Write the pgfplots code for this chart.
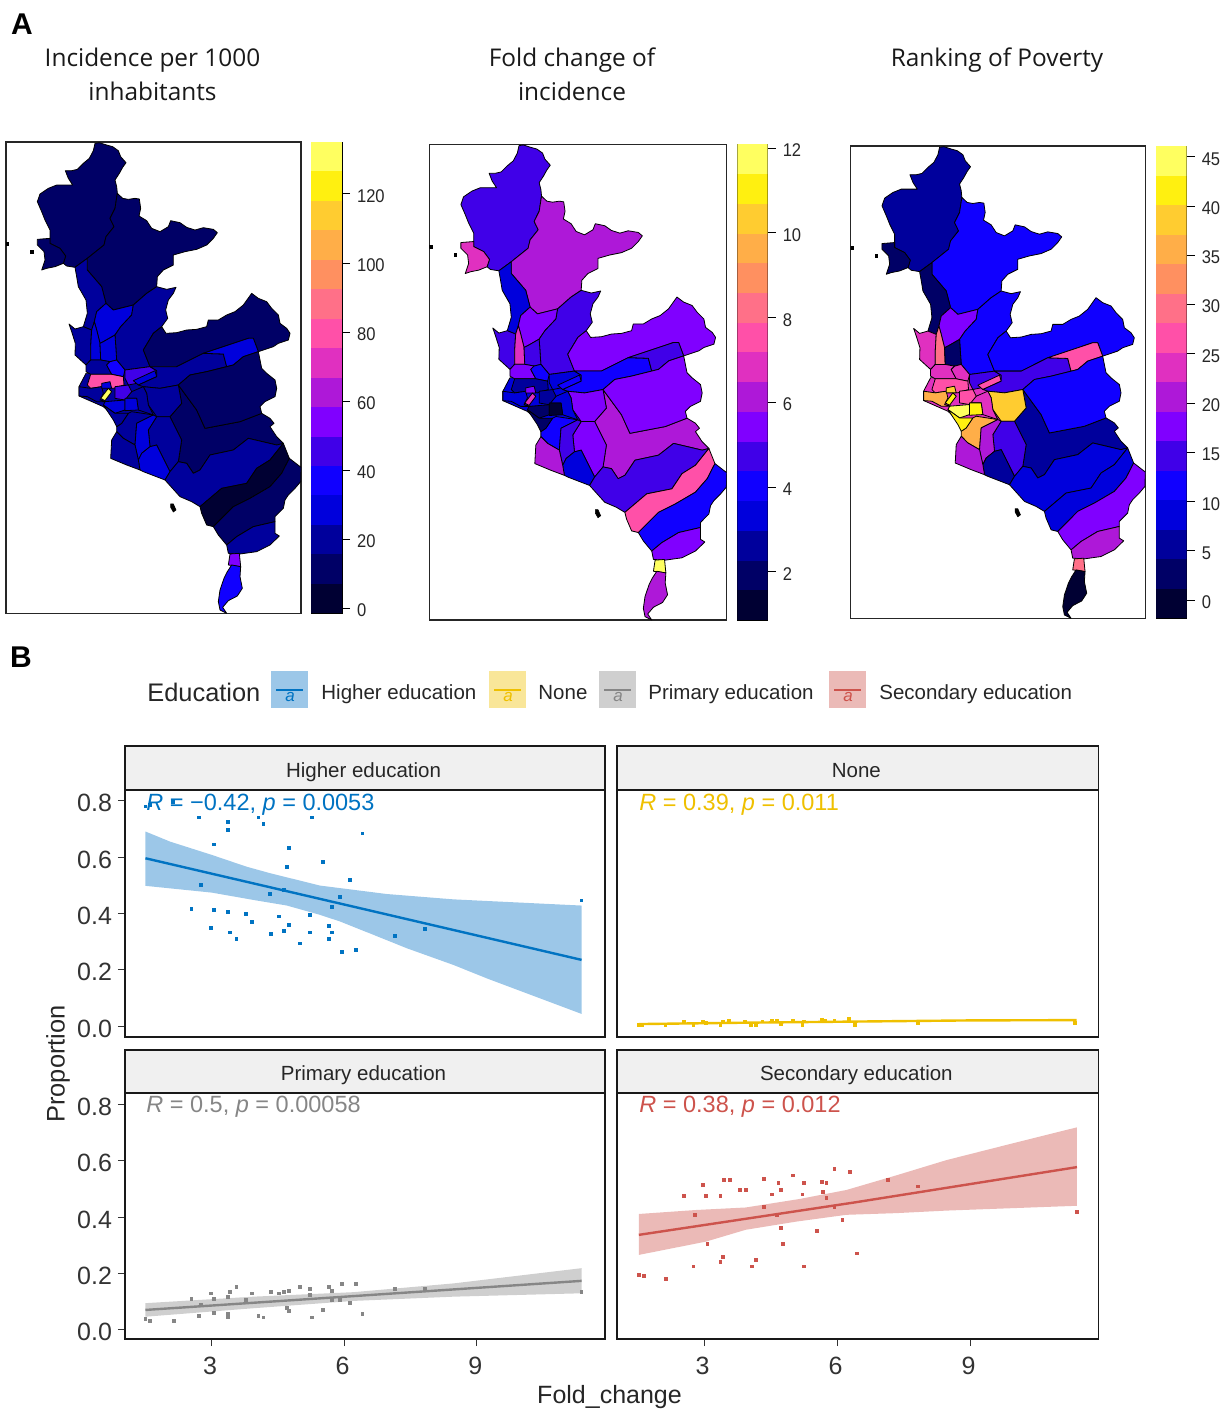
\documentclass[border=0pt]{standalone}
\usepackage{pgfplots}
\pgfplotsset{compat=1.18}
\usepackage{fontspec}
\setmainfont{Liberation Sans}
\newfontfamily\ttl{Open Sans}
\definecolor{L1}{HTML}{000033}\definecolor{L2}{HTML}{000066}\definecolor{L3}{HTML}{00009C}\definecolor{L4}{HTML}{0000DC}
\definecolor{L5}{HTML}{1000FF}\definecolor{L6}{HTML}{4000E8}\definecolor{L7}{HTML}{8000FF}\definecolor{L8}{HTML}{AE18D8}
\definecolor{L9}{HTML}{E030C0}\definecolor{L10}{HTML}{FF50A8}\definecolor{L11}{HTML}{FF7088}\definecolor{L12}{HTML}{FF9060}
\definecolor{L13}{HTML}{FFAE48}\definecolor{L14}{HTML}{FFCC30}\definecolor{L15}{HTML}{FFF010}\definecolor{L16}{HTML}{FFFF60}
\definecolor{jb}{HTML}{0073C2}\definecolor{jy}{HTML}{EFC000}\definecolor{jg}{HTML}{868686}\definecolor{jr}{HTML}{CD534C}
\definecolor{bb}{HTML}{9CC7E8}\definecolor{by}{HTML}{F9E699}\definecolor{bg}{HTML}{CFCFCF}\definecolor{br}{HTML}{EBBAB7}
\newcommand\C[2]{\colorlet{r#1}{L#2}}
\newcommand\Rg[2]{\addplot[draw=black,fill=r#1,line width=.4pt,line join=round] coordinates {#2} --cycle;}
\newcommand\Isl[1]{\addplot[draw=black,fill=black,line width=.3pt] coordinates {#1} --cycle;}
\newcommand\MapBody{%
\Rg{0}{(258,730)(470,722)(540,770)(510,860)(405,945)(365,880)(310,830)(237,798)(237,770)}
\Rg{1}{(285,40)(298,38)(320,45)(338,50)(355,62)(362,80)(378,98)(368,112)(358,130)(345,150)(350,170)(352,190)(345,235)(330,265)(342,290)(318,320)(312,345)(262,385)(225,412)(200,408)(190,400)(197,378)(180,355)(160,345)(150,340)(150,325)(150,300)(135,270)(125,245)(112,215)(120,192)(145,175)(170,165)(218,165)(205,145)(196,122)(215,122)(232,118)(250,100)(268,85)(280,62)}
\Rg{2}{(112,328)(150,325)(150,340)(160,345)(180,355)(197,378)(190,400)(165,410)(140,415)(125,420)(135,390)(132,365)(112,345)}
\Rg{3}{(352,190)(368,205)(385,208)(405,205)(418,207)(422,235)(417,258)(440,272)(455,295)(480,305)(505,290)(512,272)(540,278)(560,292)(585,300)(610,293)(640,298)(652,308)(640,325)(620,345)(590,358)(555,365)(520,375)(520,405)(490,420)(472,440)(470,470)(440,490)(400,525)(340,540)(318,520)(305,470)(262,420)(262,385)(312,345)(318,320)(342,290)(330,265)(345,235)}
\Rg{4}{(225,412)(262,385)(262,420)(305,470)(318,520)(290,545)(283,575)(275,600)(250,590)(262,550)(258,510)(235,470)(230,440)}
\Rg{5}{(318,520)(340,540)(400,525)(395,555)(362,590)(345,615)(310,635)(300,640)(290,600)(283,575)(290,545)}
\Rg{6}{(470,470)(500,478)(528,472)(520,490)(505,510)(497,540)(503,565)(485,590)(460,610)(430,660)(450,710)(375,720)(350,690)(345,615)(362,590)(395,555)(400,525)(440,490)}
\Rg{7}{(207,582)(225,597)(250,590)(275,600)(272,650)(272,690)(258,705)(225,675)(226,640)(215,605)}
\Rg{8}{(275,600)(283,575)(290,600)(300,640)(302,690)(272,690)(272,650)}
\Rg{9}{(300,640)(310,635)(345,615)(350,690)(330,695)(302,690)}
\Rg{10}{(272,690)(302,690)(330,695)(320,705)(335,733)(272,733)(258,725)(258,705)}
\Rg{11}{(330,695)(350,690)(375,720)(370,740)(335,733)(320,705)}
\Rg{13}{(375,720)(450,710)(470,722)(470,740)(410,760)(385,765)(375,745)}
\Rg{14}{(400,752)(465,722)(470,740)(415,765)}
\Rg{12}{(272,733)(335,733)(370,740)(372,765)(340,775)(305,770)(272,775)(262,765)}
\Rg{17}{(485,590)(498,610)(530,608)(560,600)(590,598)(620,590)(625,570)(655,570)(680,555)(705,545)(730,525)(755,490)(775,505)(800,515)(815,535)(835,555)(840,580)(860,595)(870,610)(865,630)(835,640)(820,650)(775,665)(760,625)(745,625)(670,650)(610,670)(530,710)(450,710)(430,660)(460,610)}
\Rg{15}{(450,710)(530,710)(610,670)(670,672)(680,710)(620,725)(570,735)(535,765)(480,775)(430,770)(415,765)(470,740)(470,722)}
\Rg{16}{(610,670)(670,650)(745,625)(760,625)(775,665)(730,680)(700,705)(680,710)(670,672)}
\Rg{19}{(535,765)(590,840)(615,895)(720,875)(785,850)(810,865)(822,880)(810,890)(830,920)(850,940)(830,945)(745,925)(700,960)(630,975)(600,1020)(580,1030)(560,1000)(535,995)(545,930)(510,860)(545,820)}
\Rg{18}{(535,765)(570,735)(620,725)(680,710)(700,705)(730,680)(775,665)(785,715)(800,730)(825,750)(830,775)(825,800)(795,815)(780,830)(785,850)(720,875)(615,895)(590,840)}
\Rg{20}{(430,770)(480,775)(535,765)(545,820)(510,860)(470,860)(445,825)(440,790)}
\Rg{21}{(470,860)(510,860)(545,930)(535,995)(510,1025)(470,945)(450,950)(445,900)}
\Rg{25}{(350,890)(365,880)(385,850)(395,845)(460,855)(410,880)(405,945)(370,925)(350,905)}
\Rg{22}{(460,855)(470,860)(445,900)(450,950)(425,970)(415,990)(405,945)(410,880)}
\Rg{23}{(450,950)(470,945)(510,1025)(495,1050)(430,1025)(420,1020)(415,990)(425,970)}
\Rg{24}{(350,905)(370,925)(405,945)(415,990)(420,1020)(380,1005)(332,985)(335,930)}
\Rg{26}{(510,1025)(535,995)(560,1000)(580,1030)(600,1020)(630,975)(700,960)(745,925)(830,945)(850,940)(810,990)(770,1015)(740,1060)(665,1075)(600,1130)(575,1115)(540,1100)(495,1050)}
\Rg{27}{(600,1130)(665,1075)(740,1060)(770,1015)(810,990)(850,940)(868,985)(845,1030)(810,1070)(750,1105)(700,1130)(640,1190)(620,1185)(605,1150)}
\Rg{28}{(868,985)(903,1012)(902,1055)(885,1075)(865,1095)(855,1110)(850,1135)(825,1160)(825,1175)(760,1190)(710,1220)(680,1245)(655,1215)(640,1190)(700,1130)(750,1105)(810,1070)(845,1030)}
\Rg{29}{(760,1190)(825,1175)(825,1210)(838,1218)(810,1245)(770,1265)(720,1272)(685,1270)(680,1245)(710,1220)}
\Rg{30}{(690,1272)(718,1270)(722,1310)(685,1305)}
\Rg{31}{(695,1305)(722,1310)(720,1340)(727,1375)(712,1398)(685,1412)(668,1432)(680,1450)(660,1440)(655,1415)(660,1380)(672,1345)(682,1325)}
\Rg{32}{(237,770)(272,775)(305,770)(310,790)(300,810)(320,815)(290,815)(262,800)(237,798)}
\Rg{34}{(305,760)(330,755)(335,775)(305,775)}
\Rg{39}{(395,785)(430,770)(440,790)(445,825)(460,855)(415,840)(410,805)(375,805)}
\Rg{35}{(345,770)(385,765)(395,785)(375,810)(345,805)}
\Rg{36}{(315,815)(375,810)(375,840)(345,850)(310,825)}
\Rg{37}{(375,805)(410,805)(415,840)(375,842)}
\Rg{38}{(310,825)(345,850)(385,850)(365,880)(350,890)(340,870)}
\Rg{33}{(302,805)(325,775)(335,785)(315,812)}
\Isl{(18,336)(26,336)(26,345)(18,345)}
\Isl{(92,361)(99,361)(99,369)(92,369)}
\Isl{(512,1122)(520,1122)(528,1140)(520,1146)(512,1132)}
}
\newcommand\Lev[3]{\addplot[fill=L#1,draw=none] coordinates {(0,#2)(1,#2)(1,#3)(0,#3)} --cycle;}
\pgfplotsset{
 mapax/.style={anchor=south west,scale only axis,xmin=18,xmax=903,ymin=36,ymax=1450,y dir=reverse,ticks=none,axis line style={line width=.6pt,draw=black!85}},
 cbax/.style={anchor=south west,scale only axis,xmin=0,xmax=1,xtick=\empty,ytick pos=right,yticklabel pos=right,tick align=outside,
   major tick length=4pt,tick style={black,line width=.4pt},axis line style={line width=.4pt},
   yticklabel={\scalebox{.9}[1]{\pgfmathprintnumber{\tick}}},
   /pgf/number format/assume math mode=true,yticklabel style={font=\fontsize{9.2}{10}\selectfont,text=black!85,yshift=-1.1pt}},
 panel/.style={anchor=south west,scale only axis,xmin=1.037,xmax=11.9,xtick={3,6,9},ytick={0,0.2,0.4,0.6,0.8},
   major tick length=3.5pt,tick align=outside,tick style={black!80,line width=.5pt},axis line style={line width=.7pt,draw=black!90},
   ytick pos=left,xtick pos=bottom,
   /pgf/number format/assume math mode=true,/pgf/number format/fixed,/pgf/number format/fixed zerofill,/pgf/number format/precision=1,
   xticklabel style={font=\fontsize{12.5}{15}\selectfont,text=black!80,yshift=-2pt,xshift=-.8pt,/pgf/number format/precision=0,/pgf/number format/fixed zerofill=false},
   yticklabel style={font=\fontsize{12.5}{15}\selectfont,text=black!80,yshift=-1.2pt,xshift=.5pt}},
 up/.style={panel,ymin=-0.039,ymax=0.8385,width=240pt,height=123.5pt,xtick=\empty},
 lo/.style={panel,ymin=-0.032,ymax=0.8395,width=240pt,height=123pt},
 pts/.style={only marks,color=#1,mark=square*,mark size=.7pt,mark options={solid,draw=#1,fill=#1,line width=0pt}},
}
\begin{document}
\begin{tikzpicture}
\useasboundingbox (0,0) rectangle (610.5pt,-705pt);
% ---- maps
\C{0}{3}\C{1}{2}\C{2}{2}\C{3}{2}\C{4}{3}\C{5}{4}\C{6}{3}\C{7}{3}\C{8}{4}\C{9}{4}\C{10}{3}\C{11}{5}\C{12}{10}\C{13}{6}\C{14}{4}\C{15}{3}\C{16}{4}\C{17}{2}\C{18}{2}\C{19}{2}\C{20}{3}\C{21}{3}\C{22}{4}\C{23}{4}\C{24}{3}\C{25}{3}\C{26}{3}\C{27}{1}\C{28}{2}\C{29}{3}\C{30}{7}\C{31}{5}\C{32}{3}\C{33}{16}\C{34}{4}\C{35}{6}\C{36}{4}\C{37}{4}\C{38}{3}\C{39}{3}
\begin{axis}[mapax,at={(3pt,-306.65pt)},width=147.5pt,height=235.65pt]
\MapBody
\end{axis}
\begin{axis}[cbax,at={(155.5pt,-306.65pt)},width=15.5pt,height=235.65pt,ymin=-1.45,ymax=135,ytick={0,20,40,60,80,100,120}]
\Lev{1}{-1.45}{7.08}\Lev{2}{7.08}{15.6}\Lev{3}{15.6}{24.1}\Lev{4}{24.1}{32.7}\Lev{5}{32.7}{41.2}\Lev{6}{41.2}{49.7}\Lev{7}{49.7}{58.3}\Lev{8}{58.3}{66.8}\Lev{9}{66.8}{75.3}\Lev{10}{75.3}{83.8}\Lev{11}{83.8}{92.4}\Lev{12}{92.4}{100.9}\Lev{13}{100.9}{109.4}\Lev{14}{109.4}{118}\Lev{15}{118}{126.5}\Lev{16}{126.5}{135}
\end{axis}
\C{0}{4}\C{1}{6}\C{2}{9}\C{3}{8}\C{4}{4}\C{5}{7}\C{6}{6}\C{7}{6}\C{8}{9}\C{9}{6}\C{10}{7}\C{11}{5}\C{12}{3}\C{13}{4}\C{14}{5}\C{15}{5}\C{16}{6}\C{17}{7}\C{18}{7}\C{19}{8}\C{20}{7}\C{21}{7}\C{22}{6}\C{23}{4}\C{24}{8}\C{25}{5}\C{26}{6}\C{27}{10}\C{28}{5}\C{29}{7}\C{30}{16}\C{31}{8}\C{32}{4}\C{33}{9}\C{34}{7}\C{35}{3}\C{36}{2}\C{37}{1}\C{38}{2}\C{39}{4}
\begin{axis}[mapax,at={(214.65pt,-310pt)},width=148.7pt,height=237.85pt]
\MapBody
\end{axis}
\begin{axis}[cbax,at={(368.65pt,-310pt)},width=15.2pt,height=237.85pt,ymin=0.858,ymax=12.09,ytick={2,4,6,8,10,12}]
\Lev{1}{.858}{1.56}\Lev{2}{1.56}{2.262}\Lev{3}{2.262}{2.964}\Lev{4}{2.964}{3.666}\Lev{5}{3.666}{4.368}\Lev{6}{4.368}{5.07}\Lev{7}{5.07}{5.772}\Lev{8}{5.772}{6.474}\Lev{9}{6.474}{7.176}\Lev{10}{7.176}{7.878}\Lev{11}{7.878}{8.58}\Lev{12}{8.58}{9.282}\Lev{13}{9.282}{9.984}\Lev{14}{9.984}{10.686}\Lev{15}{10.686}{11.388}\Lev{16}{11.388}{12.09}
\end{axis}
\C{0}{9}\C{1}{3}\C{2}{2}\C{3}{5}\C{4}{2}\C{5}{7}\C{6}{5}\C{7}{9}\C{8}{11}\C{9}{2}\C{10}{9}\C{11}{9}\C{12}{10}\C{13}{6}\C{14}{10}\C{15}{6}\C{16}{10}\C{17}{5}\C{18}{5}\C{19}{3}\C{20}{14}\C{21}{6}\C{22}{8}\C{23}{3}\C{24}{8}\C{25}{13}\C{26}{4}\C{27}{4}\C{28}{7}\C{29}{8}\C{30}{11}\C{31}{1}\C{32}{13}\C{33}{15}\C{34}{14}\C{35}{10}\C{36}{16}\C{37}{15}\C{38}{15}\C{39}{9}
\begin{axis}[mapax,at={(425.35pt,-309.15pt)},width=147.3pt,height=236.15pt]
\MapBody
\end{axis}
\begin{axis}[cbax,at={(578pt,-309.15pt)},width=15.35pt,height=236.15pt,ymin=-1.86,ymax=46.08,ytick={0,5,10,15,20,25,30,35,40,45}]
\Lev{1}{-1.86}{1.14}\Lev{2}{1.14}{4.13}\Lev{3}{4.13}{7.13}\Lev{4}{7.13}{10.12}\Lev{5}{10.12}{13.12}\Lev{6}{13.12}{16.12}\Lev{7}{16.12}{19.11}\Lev{8}{19.11}{22.11}\Lev{9}{22.11}{25.1}\Lev{10}{25.1}{28.1}\Lev{11}{28.1}{31.1}\Lev{12}{31.1}{34.09}\Lev{13}{34.09}{37.09}\Lev{14}{37.09}{40.08}\Lev{15}{40.08}{43.08}\Lev{16}{43.08}{46.08}
\end{axis}
% ---- panels
\begin{axis}[up,at={(62.5pt,-518.5pt)}]
\addplot[fill=bb,draw=none] coordinates {(1.50,.691)(2.06,.655)(3,.608)(3.79,.566)(4.32,.543)(5.45,.499)(6.96,.469)(8.47,.450)(11.37,.428)(11.37,.043)(9.23,.169)(8.47,.217)(7.42,.276)(6.66,.324)(5.91,.371)(5.45,.395)(4.70,.428)(3.94,.448)(3,.474)(1.50,.498)} --cycle;
\addplot[jb,line width=1.2pt] coordinates {(1.50,.596)(6.4,.417)(11.37,.235)};
\addplot[pts=jb] coordinates {(2.72,.741)(3.37,.724)(3.37,.697)(4.06,.741)(4.17,.718)(5.26,.741)(6.41,.684)(3.05,.645)(4.74,.633)(5.51,.582)(4.71,.565)(6.12,.519)(2.76,.502)(4.32,.469)(4.64,.483)(5.91,.457)(5.72,.423)(2.54,.417)(3.05,.411)(3.37,.405)(3.77,.399)(4.53,.389)(5.22,.395)(3.92,.371)(4.74,.360)(5.66,.356)(2.98,.348)(3.42,.332)(4.35,.326)(4.64,.337)(5.22,.332)(5.72,.332)(3.56,.308)(5.66,.308)(5.00,.293)(5.94,.264)(6.27,.269)(7.14,.320)(7.82,.344)(11.37,.446)(1.50,.780)(1.60,.786)(2.13,.795)};
\end{axis}
\begin{axis}[up,at={(308.5pt,-518.5pt)},width=240.85pt,ytick=\empty]
\addplot[jy,line width=1.2pt] coordinates {(1.53,.007)(4,.012)(6.5,.016)(9,.02)(11.4,.021)};
\addplot[pts=jy] coordinates {(1.53,.004)(1.60,.004)(2.13,.003)(2.54,.015)(2.76,.002)(2.98,.016)(3.05,.012)(3.37,.004)(3.42,.016)(3.56,.017)(3.92,.016)(4.06,.003)(4.17,.003)(4.32,.016)(4.53,.017)(4.64,.017)(4.74,.006)(5.0,.017)(5.22,.004)(5.26,.016)(5.66,.023)(5.72,.02)(5.94,.019)(6.27,.024)(6.41,.003)(7.82,.011)(11.37,.012)};
\end{axis}
\begin{axis}[lo,at={(62.5pt,-669.5pt)}]
\addplot[fill=bg,draw=none] coordinates {(1.50,.095)(3.94,.118)(6.21,.134)(8.47,.165)(11.37,.219)(11.37,.130)(8.47,.118)(6.21,.103)(3.94,.077)(1.50,.047)} --cycle;
\addplot[jg,line width=1.2pt] coordinates {(1.50,.071)(6.4,.122)(11.37,.174)};
\addplot[pts=jg] coordinates {(1.50,.038)(1.60,.032)(2.14,.032)(2.54,.111)(2.72,.050)(2.76,.089)(2.98,.129)(3.05,.111)(3.05,.060)(3.37,.117)(3.42,.134)(3.37,.056)(3.37,.044)(3.56,.151)(3.77,.105)(3.92,.129)(4.06,.050)(4.17,.044)(4.35,.134)(4.53,.129)(4.64,.134)(4.74,.139)(4.71,.077)(4.74,.066)(5.00,.151)(5.22,.145)(5.22,.123)(5.26,.044)(5.51,.071)(5.66,.151)(5.72,.139)(5.72,.105)(5.91,.105)(5.94,.162)(6.12,.095)(6.27,.162)(6.41,.056)(7.14,.145)(7.82,.145)(11.37,.134)};
\end{axis}
\begin{axis}[lo,at={(308.5pt,-669.5pt)},width=240.85pt,ytick=\empty]
\addplot[fill=br,draw=none] coordinates {(1.53,.411)(2.81,.425)(3.94,.434)(5.15,.464)(6.21,.496)(7.34,.548)(8.47,.602)(9.98,.662)(11.41,.718)(11.41,.440)(8.47,.423)(7.34,.414)(6.21,.408)(5.08,.384)(3.94,.355)(3.04,.313)(1.53,.266)} --cycle;
\addplot[jr,line width=1.2pt] coordinates {(1.53,.337)(6.4,.452)(11.41,.577)};
\addplot[pts=jr] coordinates {(1.53,.196)(1.64,.190)(2.14,.180)(2.54,.474)(2.80,.407)(2.76,.225)(2.98,.514)(3.05,.474)(3.08,.304)(3.37,.474)(3.37,.242)(3.42,.259)(3.45,.531)(3.59,.531)(3.81,.496)(3.95,.496)(4.09,.225)(4.17,.247)(4.35,.536)(4.35,.435)(4.53,.480)(4.64,.407)(4.68,.520)(4.74,.496)(4.74,.362)(4.78,.304)(5.00,.547)(5.22,.480)(5.26,.520)(5.26,.225)(5.54,.350)(5.66,.525)(5.69,.490)(5.76,.520)(5.76,.468)(5.94,.571)(5.94,.435)(6.12,.390)(6.30,.559)(6.45,.271)(7.14,.531)(7.82,.508)(11.41,.417)};
\end{axis}
% ---- text, strips, legend
\begin{scope}[x=.5pt,y=-.5pt]
\node[font=\bfseries\fontsize{15}{18}\selectfont] at (22,24) {A};
\node[font=\bfseries\fontsize{15}{18}\selectfont] at (21,657) {B};
\begin{scope}[every node/.style={anchor=base,font=\ttl\fontsize{12.2}{15}\selectfont,text=black!90}]
\node at (152.5,66.5) {Incidence per 1000};
\node at (152.5,100) {inhabitants};
\node at (572,66.5) {Fold change of};
\node at (572,100) {incidence};
\node at (997,66.5) {Ranking of Poverty};
\end{scope}
\foreach \xa/\xb/\ya/\yb/\t in {125/605/746/790/Higher education,617/1098.7/746/790/None,125/605/1050/1093/Primary education,617/1098.7/1050/1093/Secondary education}{
 \draw[fill=black!6,draw=black!90,line width=.7pt] (\xa,\ya) rectangle (\xb,\yb);
 \node[anchor=base,font=\fontsize{10.25}{12}\selectfont,text=black!85] at ({(\xa+\xb)/2-1.5},{\yb-13}) {\t};
}
\begin{scope}[every node/.style={anchor=base west,font=\fontsize{11.75}{15}\selectfont}]
\node[text=jb,inner sep=0] at (146,810) {\textit{R} = −0.42, \textit{p} = 0.0053};
\node[text=jy,inner sep=0] at (639,810) {\textit{R} = 0.39, \textit{p} = 0.011};
\node[text=jg,inner sep=0] at (146,1112) {\textit{R} = 0.5, \textit{p} = 0.00058};
\node[text=jr,inner sep=0] at (639,1112) {\textit{R} = 0.38, \textit{p} = 0.012};
\end{scope}
\node[rotate=90,font=\fontsize{12.7}{15}\selectfont,text=black!85] at (58,1064) {Proportion};
\node[font=\fontsize{12.5}{15}\selectfont,text=black!85] at (609.5,1397) {Fold\_change};
\node[anchor=base west,inner sep=0,font=\fontsize{12.7}{15}\selectfont,text=black!85] at (147,701) {Education};
\foreach \x/\c/\b/\t/\tx in {271/jb/bb/Higher education/321,489/jy/by/None/538,599/jg/bg/Primary education/648,829/jr/br/Secondary education/879}{
 \fill[\b] (\x,671) rectangle (\x+37,708);
 \draw[\c,line width=1.1pt] (\x+5,690) -- (\x+32,690);
 \node[text=\c,font=\itshape\fontsize{8.5}{10}\selectfont] at (\x+19,697) {a};
 \node[anchor=base west,inner sep=0,font=\fontsize{10.25}{12}\selectfont,text=black!85] at (\tx,699) {\t};
}
\end{scope}
\end{tikzpicture}
\end{document}
